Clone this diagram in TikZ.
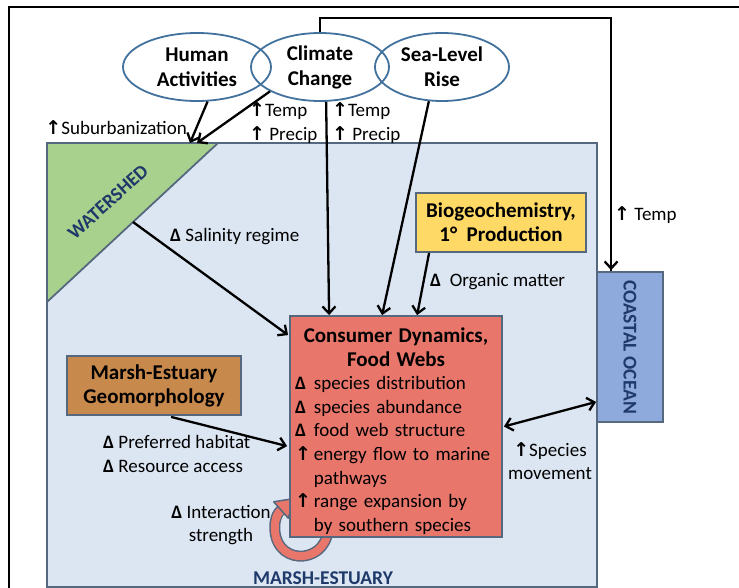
\documentclass[tikz,border=0pt]{standalone}
\usepackage{fontspec}
\setmainfont{Carlito}
\newfontfamily\arrowfont{DejaVu Sans}
\usetikzlibrary{arrows.meta,calc,shapes.geometric}

\definecolor{edgeblue}{HTML}{41719C}
\definecolor{slate}{HTML}{56687E}
\definecolor{marshfill}{HTML}{DCE6F2}
\definecolor{shedfill}{HTML}{A9D18E}
\definecolor{biofill}{HTML}{FFD966}
\definecolor{geofill}{HTML}{C8894C}
\definecolor{consfill}{HTML}{E8766B}
\definecolor{oceanfill}{HTML}{8EA9DB}
\definecolor{navy}{HTML}{1F3A6A}

\newcommand{\upar}{{\arrowfont\bfseries\fontsize{19}{19}\selectfont ↑}}
\newcommand{\dlt}{\textbf{Δ}}

\tikzset{
  every node/.style={font=\fontsize{19}{23.6}\selectfont, inner sep=0pt},
  cause/.style={ellipse, draw=edgeblue, line width=1.8pt, align=center,
    font=\fontsize{21}{25}\selectfont\bfseries},
  region/.style={draw=slate, line width=1.8pt},
  box/.style={rectangle, draw=slate, line width=1.8pt, align=center,
    font=\fontsize{21}{24}\selectfont\bfseries},
  lbl/.style={align=left},
  regionlabel/.style={text=navy, font=\fontsize{19.5}{22}\selectfont\bfseries},
  barbtip/.tip={Straight Barb[length=7pt,width=13pt,line width=2.3pt]},
  conn/.style={line width=2.3pt, -{barbtip}},
  bothconn/.style={line width=2.3pt, {barbtip}-{barbtip}},
  frame/.style={line width=2.3pt, black}
}

\begin{document}
\begin{tikzpicture}[x=1pt,y=-1pt]
\useasboundingbox (0,0) rectangle (739,588);

% outer frame
\draw[frame] (9,592) -- (9,7) -- (742,7);

% marsh-estuary region and the watershed corner
\node[region, fill=marshfill, minimum width=550pt, minimum height=444pt] (marsh) at (322,365) {};
\draw[region, fill=shedfill] (47,143) -- (218,143) -- (47,302) -- cycle;
\coordinate (shedA) at (190,143);
\coordinate (shedB) at (197,143);
\coordinate (shedC) at (133,222);
\node[regionlabel, rotate=42] (shedlbl) at (108,202) {WATERSHED};
\node[regionlabel] (marshlbl) at (323,578) {MARSH-ESTUARY};

% coastal ocean
\node[box, fill=oceanfill, minimum width=66pt, minimum height=150pt] (ocean) at (630,347) {};
\node[regionlabel, rotate=-90] (oceanlbl) at (ocean.center) {COASTAL OCEAN};

% drivers
\node[cause, minimum width=148pt, minimum height=68pt] (hum) at (197,67) {Human\\Activities};
\node[cause, minimum width=138pt, minimum height=68pt] (cc) at (320,67) {Climate\\Change};
\node[cause, minimum width=134pt, minimum height=68pt] (slr) at (442,67) {Sea-Level\\Rise};

% self-interaction loop (fat curved arrow)
\def\looppath{(328,530) .. controls (325,566) and (271,566) .. (275,523)
  .. controls (276,516) and (278,513) .. (281,510)}
\draw[slate, line width=11pt] \looppath;
\draw[consfill, line width=8pt] \looppath;
\filldraw[fill=consfill, draw=slate, line width=1.5pt, line join=round]
  (294,498.5) -- (288.3,518.2) -- (273.7,501.8) -- cycle;
\draw[consfill, line width=8pt] (276,520) .. controls (277,515) and (278,513.5) .. (280,511.5);

% boxes
\node[box, fill=biofill, minimum width=170pt, minimum height=59pt] (bio) at (501,222.5)
  {Biogeochemistry,\\1°\ \ Production};
\node[box, fill=geofill, minimum width=174pt, minimum height=59pt] (geo) at (154,385.5)
  {Marsh-Estuary\\Geomorphology};
\node[box, fill=consfill, minimum width=212pt, minimum height=221pt] (cons) at (396,426.5) {};
\node[anchor=north, text width=202pt, align=left] (constext) at ($(cons.north)+(0,12)$)
  {{\centering\bfseries\fontsize{21}{24}\selectfont Consumer Dynamics,\\Food Webs\par}
   \begin{tabular}[t]{@{}l@{\hspace{3pt}}l@{}}
   \dlt & species distribution\\
   \dlt & species abundance\\
   \dlt & food web structure\\
   \upar & energy flow to marine\\
        & pathways\\
   \upar & range expansion by\\
        & by southern species
   \end{tabular}};

% connectors
\draw[conn] (hum.-73) -- (shedA);
\draw[conn] (cc.-154) -- (shedB);
\draw[conn] (cc.-80) -- ($(cons.north west)+(40,0)$);
\draw[conn] (slr.-111) -- ($(cons.north west)+(93,0)$);
\draw[conn] ($(bio.south west)+(14,0)$) -- ($(cons.north west)+(128,0)$);
\draw[conn] (shedC) -- ($(cons.north west)+(-1,20)$);
\draw[conn] ($(geo.south west)+(105,1)$) -- ($(cons.north west)+(-2,131)$);
\draw[bothconn] ($(cons.east)+(1,0)$) -- ($(ocean.south west)+(0,-21)$);
\draw[line width=2.3pt] (cc.north) -- ++(0,-14) -| ($(ocean.north west)+(15,0)$);
\draw[conn] ($(ocean.north west)+(15,-120)$) -- ($(ocean.north west)+(15,-1)$);

% labels
\node[lbl, anchor=east] (lsub) at (187,128) {\upar Suburbanization};
\node[lbl, anchor=west] (ltp1) at (249,123) {\upar Temp\\\upar\ Precip};
\node[lbl, anchor=west] (ltp2) at (332,123) {\upar Temp\\\upar\ Precip};
\node[lbl, anchor=west] (lsal) at (170,237) {\dlt\ Salinity regime};
\node[lbl, anchor=west] (lorg) at (430,282) {\dlt\ \ Organic matter};
\node[lbl, anchor=west] (ltemp) at (614,215) {\upar\ Temp};
\node[lbl, anchor=west] (lhab) at (103,454) {\dlt\ Preferred habitat\\\dlt\ Resource access};
\node[align=center] (lmove) at (550,461) {\upar Species\\movement};
\node[align=center] (lint) at (221,525) {\dlt\ Interaction\\strength};
\end{tikzpicture}
\end{document}
